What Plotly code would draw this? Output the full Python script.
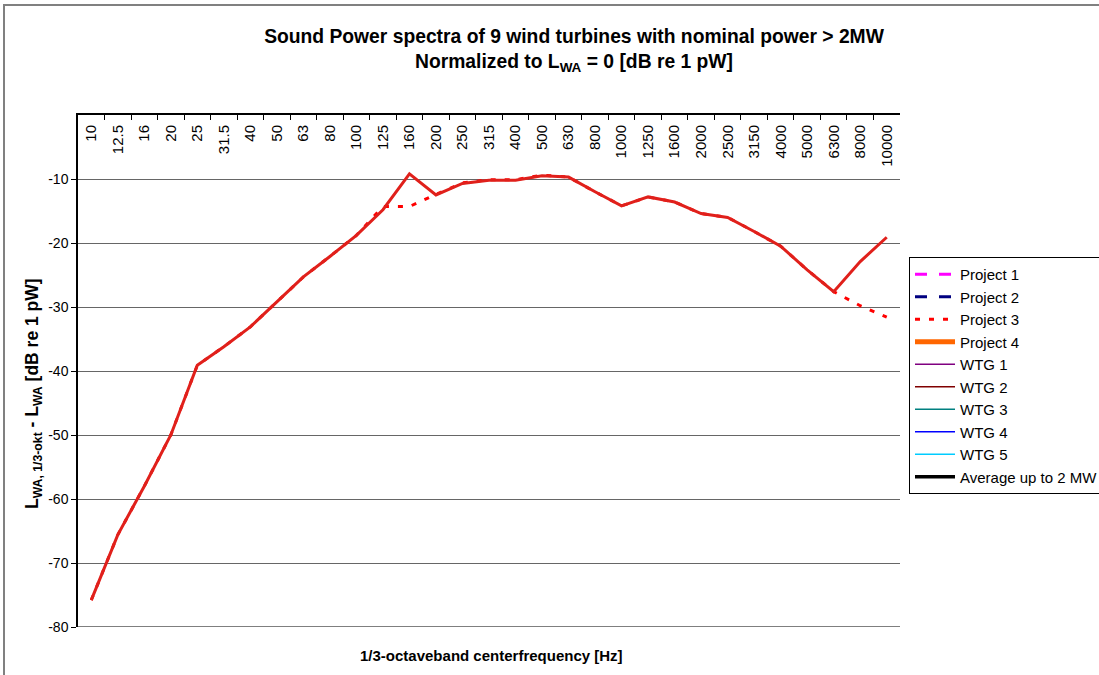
import plotly.graph_objects as go

freqs = ["10", "12.5", "16", "20", "25", "31.5", "40", "50", "63", "80", "100", "125",
         "160", "200", "250", "315", "400", "500", "630", "800", "1000", "1250", "1600",
         "2000", "2500", "3150", "4000", "5000", "6300", "8000", "10000"]

# Solid red spectrum (series without legend entry)
spectrum = [-75.8, -65.6, -58.0, -50.0, -39.1, -36.2, -33.1, -29.2, -25.3, -22.1, -18.8, -14.8,
            -9.2, -12.5, -10.7, -10.2, -10.2, -9.5, -9.7, -12.0, -14.2, -12.8, -13.6,
            -15.4, -16.0, -18.2, -20.5, -24.2, -27.6, -22.9, -19.1]

# Project 3 (red dotted)
project3 = [-75.8, -65.6, -58.0, -50.0, -39.1, -36.2, -33.1, -29.2, -25.3, -22.1, -18.8, -14.3,
            -14.3, -12.4, -10.6, -10.1, -10.1, -9.4, -9.7, -12.0, -14.2, -12.8, -13.6,
            -15.4, -16.0, -18.2, -20.5, -24.2, -27.6, -29.8, -31.6]

# series listed in the legend but without visible values
empty_values = [None] * len(freqs)

y_ticks = [0, -10, -20, -30, -40, -50, -60, -70, -80]
y_tick_labels = ["0", "-10", "-20", "-30", "-40", "-50", "-60", "-70", "-80"]

FONT = "Arial, Liberation Sans, sans-serif"

fig = go.Figure()

legend_series = [
    ("Project 1", dict(color="#ff00ff", width=3, dash="12px,12px")),
    ("Project 2", dict(color="#000080", width=3, dash="12px,12px")),
]
for name, line in legend_series:
    fig.add_trace(go.Scatter(x=freqs, y=empty_values, mode="lines", name=name, line=line))

fig.add_trace(go.Scatter(x=freqs, y=project3, mode="lines", name="Project 3",
                         line=dict(color="#ff0000", width=3, dash="5px,9px")))

more_series = [
    ("Project 4", dict(color="#ff6600", width=5)),
    ("WTG 1", dict(color="#800080", width=1.5)),
    ("WTG 2", dict(color="#800000", width=1.5)),
    ("WTG 3", dict(color="#008080", width=1.5)),
    ("WTG 4", dict(color="#0000ff", width=1.5)),
    ("WTG 5", dict(color="#00ccff", width=1.5)),
    ("Average up to 2 MW", dict(color="#000000", width=3.5)),
]
for name, line in more_series:
    fig.add_trace(go.Scatter(x=freqs, y=empty_values, mode="lines", name=name, line=line))

fig.add_trace(go.Scatter(x=freqs, y=spectrum, mode="lines", name="Spectrum",
                         showlegend=False,
                         line=dict(color="#e0201b", width=3)))

# target plot area in screen pixels: x 78..900, y 115..627
L, R, T, B = 78, 900, 115, 627
W, H = 1099, 675
PW, PH = R - L, B - T

fig.update_layout(
    width=W, height=H,
    paper_bgcolor="white", plot_bgcolor="white",
    font=dict(family=FONT, size=14, color="black"),
    margin=dict(l=L, r=W - R, t=T, b=H - B, autoexpand=False),
    title=dict(
        text="Sound Power spectra of 9 wind turbines with nominal power > 2MW<br>"
             "Normalized to L<sub>WA</sub> = 0 [dB re 1 pW]",
        x=574 / W, xref="container", xanchor="center",
        y=1 - 43 / H, yref="container", yanchor="middle",
        font=dict(family=FONT, size=19.3, color="black", weight="bold"),
    ),
    showlegend=True,
    legend=dict(
        x=(909 - L) / PW, xanchor="left",
        y=(B - 257) / PH, yanchor="top",
        bordercolor="black", borderwidth=1,
        font=dict(family=FONT, size=15, color="black"),
        tracegroupgap=0, itemwidth=40,
        bgcolor="white",
    ),
    xaxis=dict(
        type="category", categoryorder="array", categoryarray=freqs,
        side="top", anchor="y", position=1,
        tickangle=-90, ticks="inside", ticklen=5, tickcolor="black",
        tickson="boundaries", ticklabelposition="inside",
        ticklabelstandoff=-3,
        showline=True, linecolor="black", linewidth=1.5,
        showgrid=False, zeroline=False,
        range=[-0.5, len(freqs) - 0.5],
        tickfont=dict(family=FONT, size=15, color="black"),
    ),
    yaxis=dict(
        range=[-80, 0], tickmode="array", tickvals=y_ticks, ticktext=y_tick_labels,
        ticks="outside", ticklen=5, tickcolor="black",
        showline=True, linecolor="black", linewidth=1.5,
        showgrid=True, gridcolor="#666666", gridwidth=1.2,
        zeroline=False,
        tickfont=dict(family=FONT, size=14, color="black"),
    ),
)

# bottom line at -80
fig.add_shape(type="line", xref="paper", yref="y", x0=0, x1=1, y0=-80, y1=-80,
              line=dict(color="black", width=1.2))

# chart border
fig.add_shape(type="rect", xref="paper", yref="paper",
              x0=(4 - L) / PW, x1=1.4, y0=(B - 5) / PH, y1=-0.2,
              line=dict(color="#808080", width=2), layer="below")

fig.add_annotation(
    text="L<sub>WA, 1/3-okt</sub> - L<sub>WA</sub> [dB re 1 pW]",
    xref="paper", yref="paper", x=(33 - L) / PW, y=(B - 394) / PH,
    textangle=-90, showarrow=False, xanchor="center", yanchor="middle",
    font=dict(family=FONT, size=17.5, color="black", weight="bold"),
)
fig.add_annotation(
    text="1/3-octaveband centerfrequency [Hz]",
    xref="paper", yref="paper", x=(491 - L) / PW, y=(B - 655) / PH,
    showarrow=False, xanchor="center", yanchor="middle",
    font=dict(family=FONT, size=15, color="black", weight="bold"),
)

fig.write_html("out.html",
               config={"displayModeBar": False},
               post_script="document.body.style.margin='0px';document.body.style.padding='0px';")
